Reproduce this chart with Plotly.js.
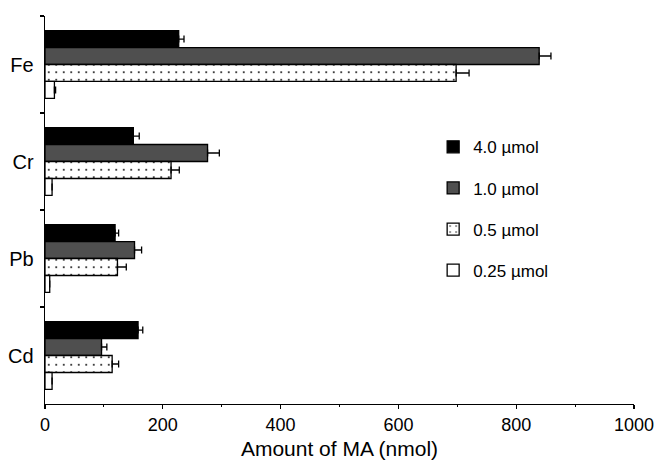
<!DOCTYPE html>
<html>
<head>
<meta charset="utf-8">
<script src="https://cdn.plot.ly/plotly-3.0.1.min.js"></script>
<style>html,body{margin:0;padding:0;background:#fff;}#chart{width:659px;height:465px;}</style>
</head>
<body>
<div id="chart"></div>
<script>
const metals = ['Fe', 'Cr', 'Pb', 'Cd'];
const seriesNames = ['4.0 \u00b5mol', '1.0 \u00b5mol', '0.5 \u00b5mol', '0.25 \u00b5mol'];
const val40 = [227, 150, 119, 158];
const err40 = [9, 10, 6, 8];
const val10 = [839, 276, 152, 96];
const err10 = [20, 20, 12, 9];
const val05 = [698, 214, 123, 114];
const err05 = [22, 14, 15, 11];
const val025 = [16, 12, 8, 12];
const err025 = [2, 0, 0, 0];
const xTicks = [0, 200, 400, 600, 800, 1000];

const values = [val40, val10, val05, val025];
const errors = [err40, err10, err05, err025];
const fills = ['#000000', '#4f4f4f', '#ffffff', '#ffffff'];

const traces = values.map((v, i) => {
  const marker = {color: fills[i], line: {color: '#000', width: 1.3}};
  if (i === 2) {
    marker.pattern = {shape: '.', size: 7.5, solidity: 0.05, fgcolor: '#000', bgcolor: '#fff', fillmode: 'replace'};
  }
  return {
    type: 'bar', orientation: 'h', name: seriesNames[i], legendgroup: 'g' + i,
    y: metals, x: v, marker: marker,
    error_x: {type: 'data', array: errors[i], arrayminus: v.map(() => 0), symmetric: false,
              color: '#000', thickness: 1.3, width: 3.5}
  };
});

const layout = {
  width: 659, height: 465,
  margin: {l: 45, r: 25, t: 16, b: 61, pad: 0},
  paper_bgcolor: '#fff', plot_bgcolor: '#fff',
  font: {family: 'Arial, "Liberation Sans", sans-serif', color: '#000', size: 17},
  barmode: 'group', bargap: 0.3, bargroupgap: 0,
  showlegend: true,
  legend: {x: 0.659, y: 0.708, xanchor: 'left', yanchor: 'top', traceorder: 'grouped',
           tracegroupgap: 16, font: {size: 17}, bgcolor: 'rgba(0,0,0,0)'},
  xaxis: {
    range: [0, 1000], tickvals: xTicks, ticktext: xTicks.map(String),
    showgrid: false, zeroline: false, showline: true, linecolor: '#000', linewidth: 1.3,
    ticks: 'outside', ticklen: 4, tickwidth: 1.2, tickcolor: '#000',
    minor: {dtick: 100, ticks: 'outside', ticklen: 2, tickwidth: 1, tickcolor: '#000'},
    tickfont: {size: 18},
    title: {text: 'Amount of MA (nmol)', font: {size: 21}, standoff: 7},
    automargin: false, fixedrange: true
  },
  yaxis: {
    type: 'category', categoryorder: 'array', categoryarray: metals, autorange: 'reversed',
    showgrid: false, zeroline: false, showline: true, linecolor: '#000', linewidth: 1.3,
    ticks: 'outside', tickson: 'boundaries', ticklen: 4, tickwidth: 1.2, tickcolor: '#000',
    tickfont: {size: 20}, ticklabelstandoff: 6,
    automargin: false, fixedrange: true
  }
};

Plotly.newPlot('chart', traces, layout, {displayModeBar: false, staticPlot: true});
</script>
</body>
</html>
